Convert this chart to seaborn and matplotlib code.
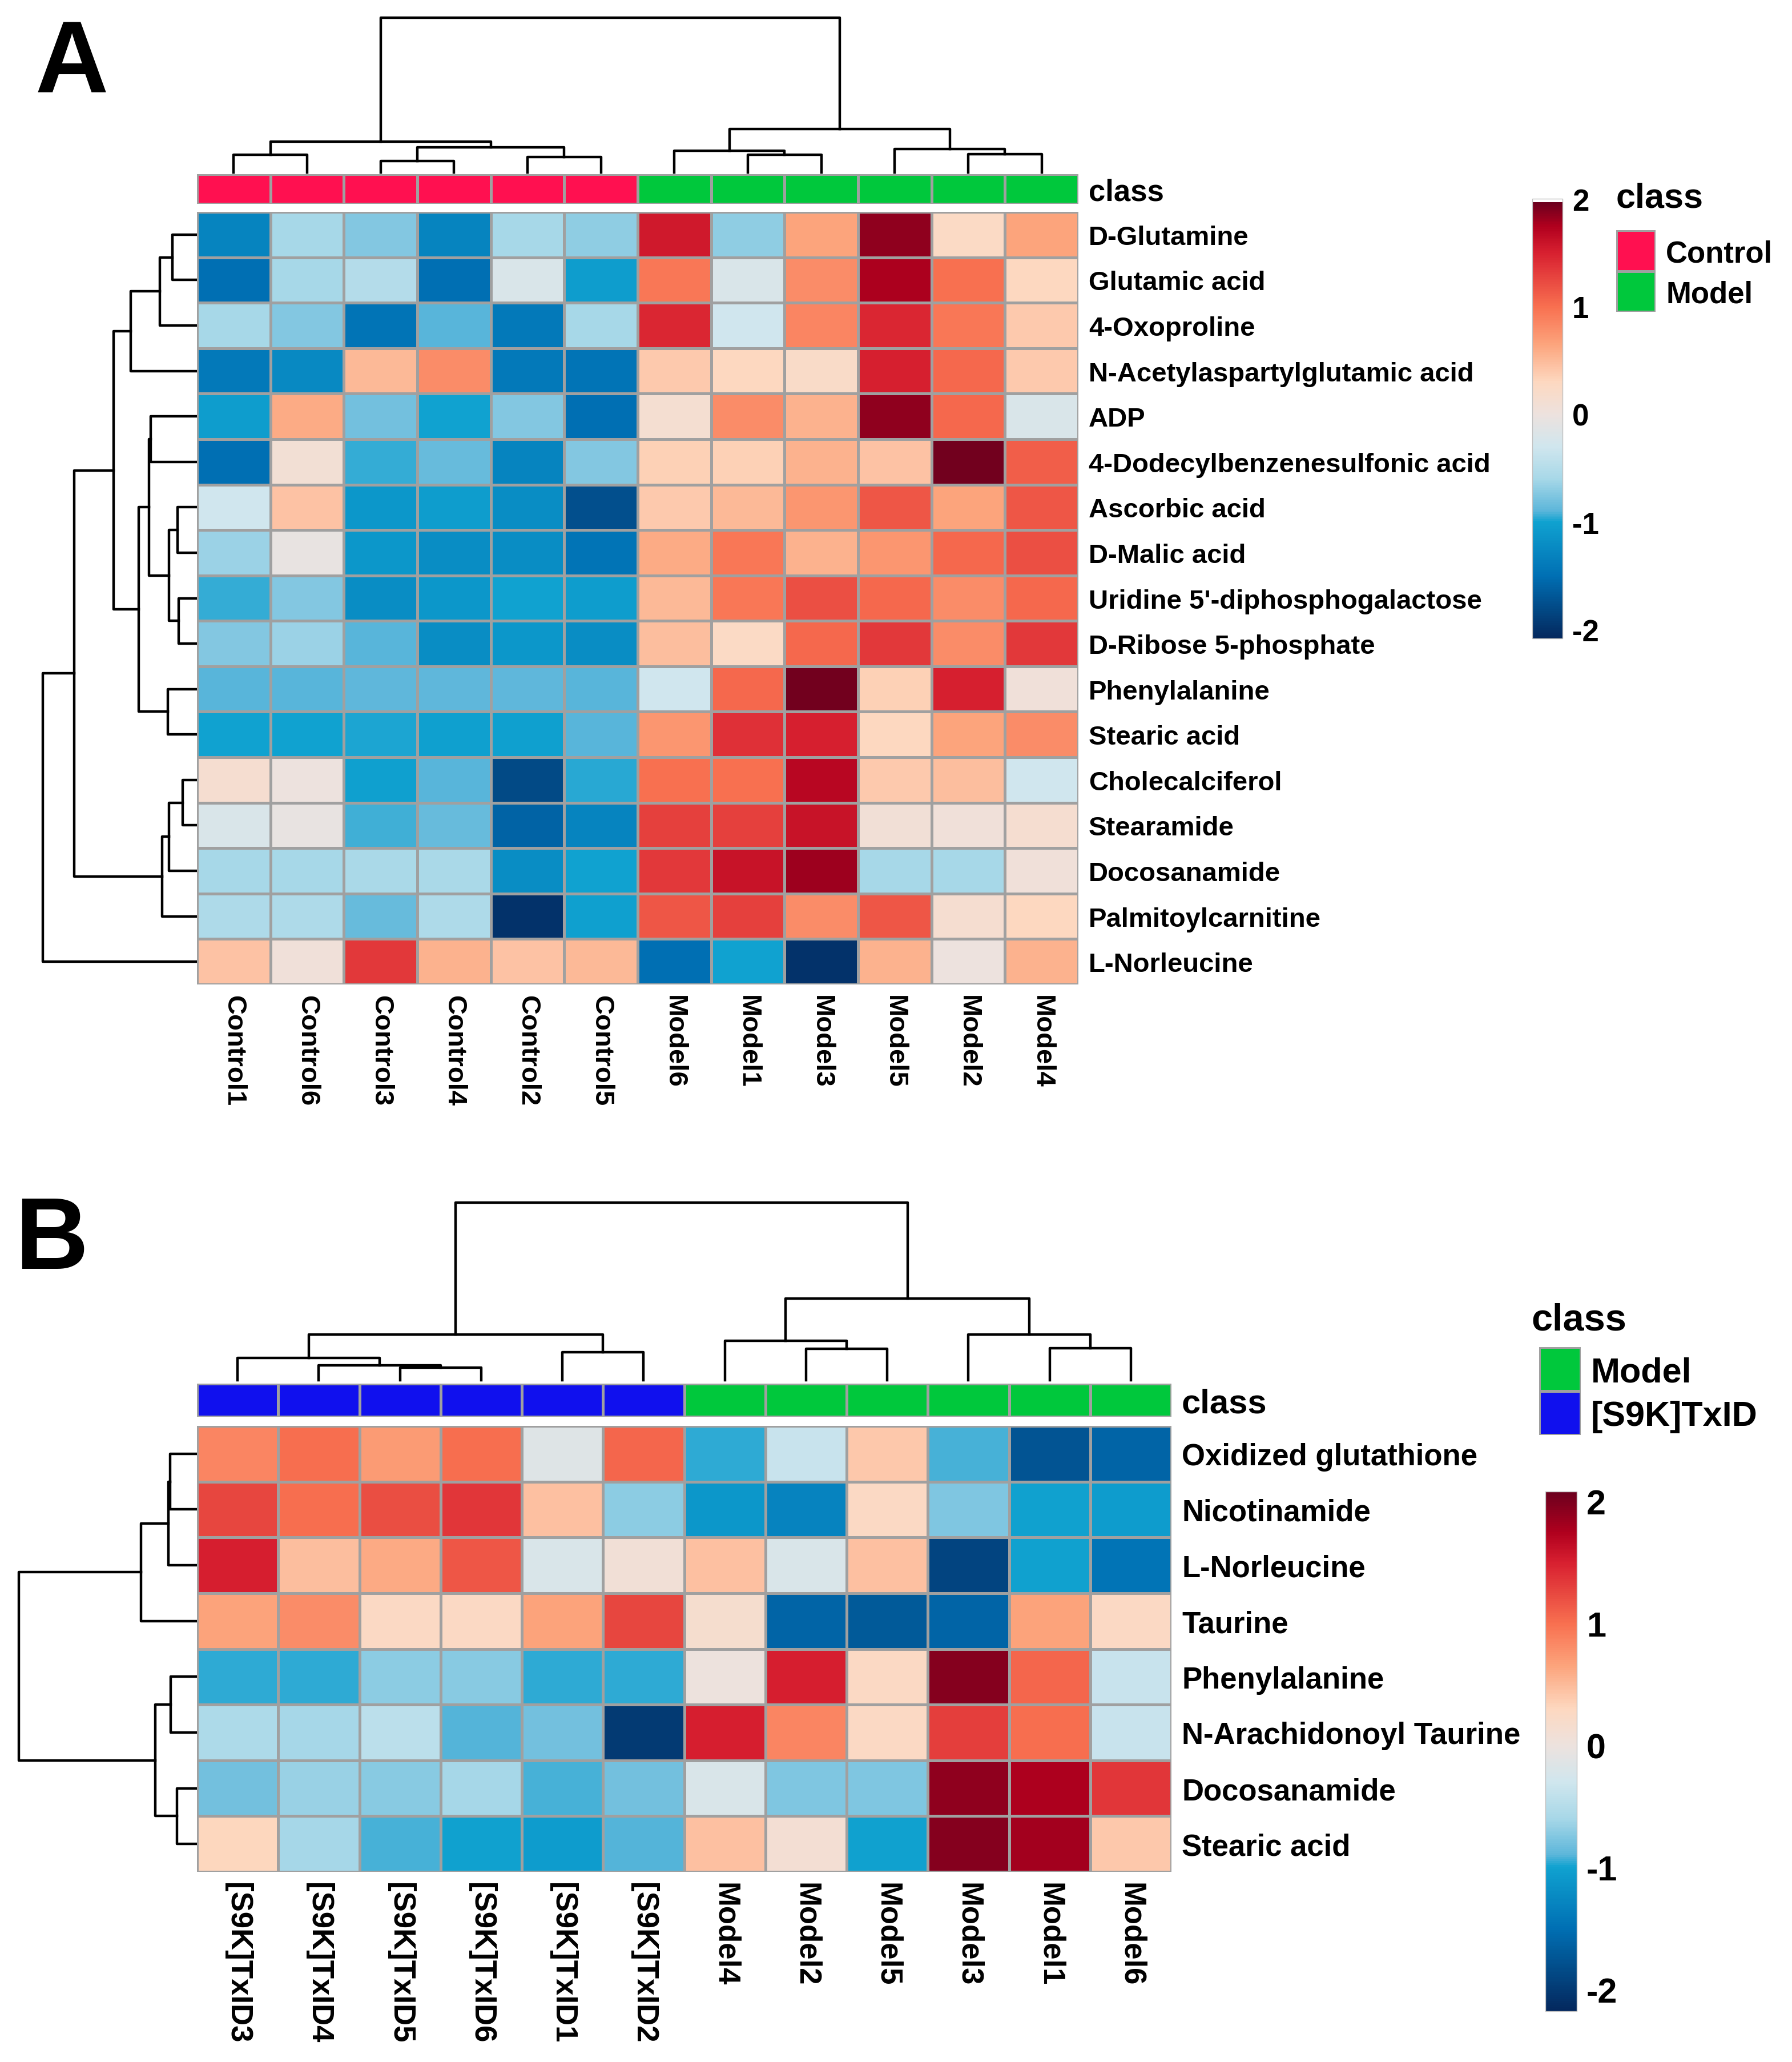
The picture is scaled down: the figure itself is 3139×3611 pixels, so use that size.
import numpy as np
import pandas as pd
import seaborn as sns
import matplotlib.pyplot as plt
from matplotlib.colors import LinearSegmentedColormap, ListedColormap

# ---------------- data ----------------
metab_a = ['D-Glutamine', 'Glutamic acid', '4-Oxoproline', 'N-Acetylaspartylglutamic acid', 'ADP',
           '4-Dodecylbenzenesulfonic acid', 'Ascorbic acid', 'D-Malic acid',
           "Uridine 5'-diphosphogalactose", 'D-Ribose 5-phosphate', 'Phenylalanine', 'Stearic acid',
           'Cholecalciferol', 'Stearamide', 'Docosanamide', 'Palmitoylcarnitine', 'L-Norleucine']
samples_a = ['Control1', 'Control6', 'Control3', 'Control4', 'Control2', 'Control5',
             'Model6', 'Model1', 'Model3', 'Model5', 'Model2', 'Model4']
groups_a = ['Control'] * 6 + ['Model'] * 6
values_a = [
    [-1.3, -0.6, -0.75, -1.3, -0.6, -0.7, 1.55, -0.7, 0.65, 1.85, 0.25, 0.65],
    [-1.5, -0.6, -0.5, -1.5, -0.2, -1.05, 0.95, -0.2, 0.8, 1.75, 1.0, 0.3],
    [-0.6, -0.75, -1.45, -0.9, -1.4, -0.6, 1.45, -0.3, 0.85, 1.45, 0.95, 0.4],
    [-1.4, -1.25, 0.5, 0.8, -1.4, -1.45, 0.4, 0.3, 0.22, 1.5, 1.05, 0.4],
    [-1.05, 0.6, -0.8, -1.0, -0.75, -1.5, 0.12, 0.8, 0.55, 1.85, 1.05, -0.2],
    [-1.5, 0.1, -0.95, -0.85, -1.3, -0.75, 0.35, 0.35, 0.55, 0.45, 1.95, 1.1],
    [-0.3, 0.45, -1.1, -1.05, -1.2, -1.75, 0.4, 0.5, 0.75, 1.15, 0.65, 1.15],
    [-0.65, -0.05, -1.1, -1.2, -1.2, -1.45, 0.6, 0.95, 0.55, 0.75, 1.05, 1.2],
    [-0.95, -0.75, -1.2, -1.1, -1.0, -1.05, 0.5, 0.95, 1.2, 1.05, 0.8, 1.05],
    [-0.75, -0.65, -0.9, -1.2, -1.1, -1.2, 0.48, 0.25, 1.05, 1.35, 0.8, 1.35],
    [-0.9, -0.9, -0.88, -0.88, -0.88, -0.9, -0.3, 1.05, 1.95, 0.35, 1.5, 0.05],
    [-1.0, -1.0, -0.98, -1.02, -1.02, -0.9, 0.75, 1.4, 1.5, 0.3, 0.65, 0.8],
    [0.15, 0.0, -1.02, -0.9, -1.8, -0.97, 1.0, 1.0, 1.7, 0.4, 0.48, -0.3],
    [-0.2, -0.05, -0.93, -0.85, -1.6, -1.3, 1.3, 1.3, 1.6, 0.08, 0.05, 0.15],
    [-0.6, -0.6, -0.58, -0.58, -1.2, -1.0, 1.35, 1.6, 1.8, -0.6, -0.6, 0.05],
    [-0.55, -0.55, -0.85, -0.55, -2.0, -1.02, 1.15, 1.3, 0.8, 1.15, 0.15, 0.3],
    [0.45, 0.05, 1.35, 0.55, 0.45, 0.5, -1.5, -1.0, -2.0, 0.55, 0.0, 0.55],
]
# merges: [left, right, height]; leaves are 0..n-1, merge k gets id n+k
col_link_a = [[0, 1, 31], [2, 3, 20], [4, 5, 27], [13, 14, 44], [12, 15, 54],
              [7, 8, 31], [6, 17, 38], [10, 11, 32], [9, 19, 41], [18, 20, 76], [16, 21, 271]]
row_link_a = [[0, 1, 43], [17, 2, 65], [18, 3, 116], [4, 5, 81], [6, 7, 34], [8, 9, 32],
              [21, 22, 49], [20, 23, 84], [10, 11, 51], [24, 25, 102], [19, 26, 146],
              [12, 13, 25], [28, 14, 49], [29, 15, 61], [27, 30, 215], [31, 16, 270]]

metab_b = ['Oxidized glutathione', 'Nicotinamide', 'L-Norleucine', 'Taurine', 'Phenylalanine',
           'N-Arachidonoyl Taurine', 'Docosanamide', 'Stearic acid']
samples_b = ['[S9K]TxID3', '[S9K]TxID4', '[S9K]TxID5', '[S9K]TxID6', '[S9K]TxID1', '[S9K]TxID2',
             'Model4', 'Model2', 'Model5', 'Model3', 'Model1', 'Model6']
groups_b = ['[S9K]TxID'] * 6 + ['Model'] * 6
values_b = [
    [0.85, 1.0, 0.7, 1.0, -0.15, 1.05, -0.95, -0.35, 0.4, -0.92, -1.75, -1.6],
    [1.25, 1.0, 1.2, 1.35, 0.45, -0.7, -1.1, -1.3, 0.25, -0.75, -1.0, -1.05],
    [1.5, 0.48, 0.6, 1.15, -0.2, 0.08, 0.45, -0.2, 0.45, -1.9, -1.0, -1.45],
    [0.65, 0.8, 0.25, 0.25, 0.65, 1.25, 0.15, -1.6, -1.7, -1.6, 0.65, 0.25],
    [-0.95, -0.95, -0.7, -0.72, -0.95, -0.95, 0.0, 1.5, 0.25, 1.95, 1.05, -0.35],
    [-0.55, -0.6, -0.45, -0.9, -0.8, -2.0, 1.5, 0.85, 0.25, 1.3, 1.0, -0.35],
    [-0.8, -0.65, -0.72, -0.6, -0.93, -0.8, -0.2, -0.75, -0.75, 1.9, 1.75, 1.35],
    [0.3, -0.6, -0.93, -1.0, -1.05, -0.9, 0.45, 0.1, -1.0, 1.95, 1.8, 0.4],
]
col_link_b = [[2, 3, 22], [1, 12, 26], [0, 13, 40], [4, 5, 50], [14, 15, 81],
              [7, 8, 56], [6, 17, 70], [10, 11, 57], [9, 19, 81], [18, 20, 145], [16, 21, 316]]
row_link_b = [[0, 1, 47], [8, 2, 50], [9, 3, 98], [4, 5, 46], [6, 7, 35], [11, 12, 73], [10, 13, 312]]

cbar_ticks = [2, 1, 0, -1, -2]

# ---------------- style ----------------
group_colors = {'Control': '#FF1050', 'Model': '#00C83C', '[S9K]TxID': '#1010EE'}
cmap_anchors = [(-2.0, '#04285E'), (-1.5, '#0070B4'), (-1.0, '#10A2D0'), (-0.9, '#5CB6DA'),
                (-0.6, '#A8D8E8'), (-0.3, '#D0E6EE'), (0.0, '#EDE2DE'), (0.3, '#FDD8C0'),
                (0.65, '#FCA47C'), (1.0, '#F87050'), (1.5, '#D82030'), (1.75, '#B0001E'),
                (2.0, '#6D001E')]
GRID = '#A0A0A0'

plt.rcParams['font.family'] = ['Liberation Sans', 'DejaVu Sans']
plt.rcParams['font.weight'] = 'bold'
plt.rcParams['axes.unicode_minus'] = False

W, H = 3139, 3612
fig = plt.figure(figsize=(W / 100, H / 100), dpi=100)


def box(x0, y0, x1, y1):
    return [x0 / W, 1 - y1 / H, (x1 - x0) / W, (y1 - y0) / H]


def make_cmap(vmin, vmax):
    pts = [(min(max((v - vmin) / (vmax - vmin), 0), 1), c) for v, c in cmap_anchors]
    pts[0] = (0.0, pts[0][1])
    pts[-1] = (1.0, pts[-1][1])
    return LinearSegmentedColormap.from_list('hm', pts)


def draw_dendro(ax, link, n, side):
    pos = {i: i + 0.5 for i in range(n)}
    hgt = {i: 0 for i in range(n)}
    for k, (a, b, h) in enumerate(link):
        xs = [pos[a], pos[a], pos[b], pos[b]]
        ys = [hgt[a], h, h, hgt[b]]
        if side == 'top':
            ax.plot(xs, ys, color='black', lw=3.2, clip_on=False, solid_capstyle='projecting')
        else:
            ax.plot(ys, xs, color='black', lw=3.2, clip_on=False, solid_capstyle='projecting')
        pos[n + k] = (pos[a] + pos[b]) / 2
        hgt[n + k] = h
    root = link[-1][2]
    if side == 'top':
        ax.set_xlim(0, n)
        ax.set_ylim(0, root)
    else:
        ax.set_ylim(n, 0)
        ax.set_xlim(root, 0)
    ax.axis('off')


def panel(values, rows, cols, groups, col_link, row_link, legend_order, L, fs):
    n_r, n_c = len(rows), len(cols)
    df = pd.DataFrame(values, index=rows, columns=cols)

    ax_cd = fig.add_axes(box(L['hx0'], L['cd_y0'], L['hx1'], L['cd_y1']))
    draw_dendro(ax_cd, col_link, n_c, 'top')
    ax_rd = fig.add_axes(box(L['rd_x0'], L['hy0'], L['hx0'], L['hy1']))
    draw_dendro(ax_rd, row_link, n_r, 'left')

    # class bar
    lev = list(dict.fromkeys(groups))
    bar_cmap = ListedColormap([group_colors[g] for g in lev])
    ax_cb = fig.add_axes(box(L['hx0'], L['cb_y0'], L['hx1'], L['cb_y1']))
    codes = pd.DataFrame([[lev.index(g) for g in groups]], index=['class'], columns=cols)
    sns.heatmap(codes, ax=ax_cb, cmap=bar_cmap, vmin=-0.5, vmax=len(lev) - 0.5, cbar=False,
                linewidths=2.5, linecolor=GRID, xticklabels=False, yticklabels=['class'])
    ax_cb.yaxis.tick_right()
    ax_cb.tick_params(length=0, pad=fs['pad'], labelsize=fs['cls'])
    plt.setp(ax_cb.get_yticklabels(), rotation=0, ha='left', va='center_baseline')

    # main heatmap
    ax_h = fig.add_axes(box(L['hx0'], L['hy0'], L['hx1'], L['hy1']))
    cax = fig.add_axes(box(*L['cbar']))
    sns.heatmap(df, ax=ax_h, cmap=make_cmap(L['vmin'], L['vmax']), vmin=L['vmin'], vmax=L['vmax'],
                linewidths=2.5, linecolor=GRID, cbar_ax=cax, xticklabels=True, yticklabels=True)
    ax_h.yaxis.tick_right()
    ax_h.tick_params(length=0, pad=fs['pad'], labelsize=fs['lab'])
    plt.setp(ax_h.get_yticklabels(), rotation=0, ha='left', va='center_baseline')
    plt.setp(ax_h.get_xticklabels(), rotation=270, ha='center', va='top')
    ax_h.set_xlabel('')
    ax_h.set_ylabel('')

    cbar = ax_h.collections[0].colorbar
    cbar.set_ticks(cbar_ticks)
    cbar.set_ticklabels([str(t) for t in cbar_ticks])
    cbar.ax.tick_params(length=0, labelsize=fs['cbar'], pad=12)
    cbar.outline.set_edgecolor('#C0C0C0')
    cbar.outline.set_linewidth(1)

    # class legend
    ax_lg = fig.add_axes(box(*L['leg']))
    leg_codes = pd.DataFrame([[lev.index(g)] for g in legend_order], index=legend_order)
    sns.heatmap(leg_codes, ax=ax_lg, cmap=bar_cmap, vmin=-0.5, vmax=len(lev) - 0.5, cbar=False,
                linewidths=2.5, linecolor=GRID, xticklabels=False, yticklabels=legend_order)
    ax_lg.yaxis.tick_right()
    ax_lg.tick_params(length=0, pad=13, labelsize=fs['leg'])
    plt.setp(ax_lg.get_yticklabels(), rotation=0, ha='left', va='center_baseline')
    ax_lg.set_ylabel('')
    fig.text(L['leg_title'][0] / W, 1 - L['leg_title'][1] / H, 'class',
             fontsize=fs['legt'], fontweight='bold', ha='left', va='center_baseline')

    fig.text(L['letter'][0] / W, 1 - L['letter'][1] / H, L['letter'][2],
             fontsize=128, fontweight='bold', ha='left', va='baseline')


layout_a = dict(hx0=345, hx1=1889, hy0=372, hy1=1725, cd_y0=32, cd_y1=303, cb_y0=306, cb_y1=358,
                rd_x0=75, cbar=(2684, 349, 2737, 1119), vmin=-2.08, vmax=1.97,
                leg=(2831, 404, 2900, 547), leg_title=(2831, 342), letter=(62, 161, 'A'))
layout_b = dict(hx0=345, hx1=2052, hy0=2498, hy1=3279, cd_y0=2107, cd_y1=2418, cb_y0=2424,
                cb_y1=2482, rd_x0=33, cbar=(2707, 2613, 2762, 3523), vmin=-2.18, vmax=2.08,
                leg=(2696, 2360, 2769, 2514), leg_title=(2682, 2306), letter=(26, 2222, 'B'))

panel(values_a, metab_a, samples_a, groups_a, col_link_a, row_link_a, ['Control', 'Model'],
      layout_a, dict(lab=34, cls=38, cbar=38, leg=38, legt=44, pad=13))
panel(values_b, metab_b, samples_b, groups_b, col_link_b, row_link_b, ['Model', '[S9K]TxID'],
      layout_b, dict(lab=38, cls=43, cbar=44, leg=44, legt=48, pad=13))

fig.savefig('out.png', dpi=100, facecolor='white')
